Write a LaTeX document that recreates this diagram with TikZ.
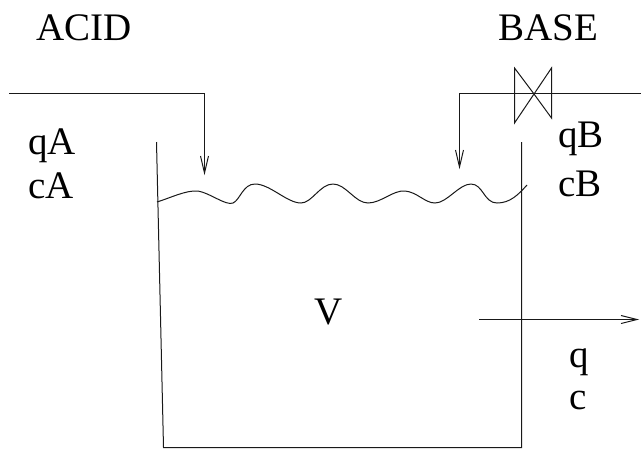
\documentclass[tikz,border=0pt]{standalone}
\usepackage{fontspec}
\setmainfont{Liberation Serif}
\tikzset{
  lbl/.style={inner sep=0pt,font=\fontsize{39}{39}\selectfont,anchor=base west},
  pipe/.style={line width=0.75pt,black!90},
  tip/.style={line width=0.75pt,black!90}
}
\begin{document}
\begin{tikzpicture}[x=0.75pt,y=-0.75pt,every node/.append style={scale=0.75}]
\useasboundingbox (0,0) rectangle (641,451);
\node[lbl] (acid) at (36,40) {ACID};
\node[lbl] (base) at (498,40) {BASE};
\node[lbl] (qa) at (28,154) {qA};
\node[lbl] (ca) at (28,198) {cA};
\node[lbl] (qb) at (558,147) {qB};
\node[lbl] (cb) at (558,196) {cB};
\node[lbl] (v) at (314,324) {V};
\node[lbl] (q) at (569,367) {q};
\node[lbl] (c) at (569,409) {c};
\coordinate (a0) at (9,93.5);
\coordinate (a1) at (204.5,93.5);
\coordinate (a2) at (204.5,173);
\draw[pipe] (a0) -- (a1) -- (a2);
\draw[tip] (200.5,156) -- (a2) -- (208.5,156);
\coordinate (b0) at (641,93.5);
\coordinate (b1) at (459.5,93.5);
\coordinate (b2) at (459.5,167);
\draw[pipe] (b0) -- (b1) -- (b2);
\draw[tip] (455.5,150) -- (b2) -- (463.5,150);
\draw[pipe] (534,94) -- (514.5,68) -- (514.5,123) -- (551.5,68) -- (551.5,118) -- cycle;
\draw[pipe] (156.5,142) -- (163.5,447.5) -- (521.5,447.5) -- (521.5,142);
\draw[pipe] (157,202) .. controls (170,198) and (186,190) .. (198,191)
  .. controls (210,193) and (226,206) .. (233,203)
  .. controls (240,200) and (243,184) .. (255,184)
  .. controls (270,184) and (287,203) .. (301,203)
  .. controls (312,203) and (320,184) .. (333,184)
  .. controls (346,184) and (355,203) .. (368,203)
  .. controls (381,203) and (393,190) .. (405,191)
  .. controls (417,192) and (425,203) .. (435,203)
  .. controls (447,203) and (459,184) .. (471,184)
  .. controls (483,184) and (484,203) .. (497,203)
  .. controls (510,203) and (518,195) .. (527,185);
\coordinate (o0) at (479,319.5);
\coordinate (o1) at (637,319.5);
\draw[pipe] (o0) -- (o1);
\draw[tip] (621,315.5) -- (o1) -- (621,323.5);
\end{tikzpicture}
\end{document}
